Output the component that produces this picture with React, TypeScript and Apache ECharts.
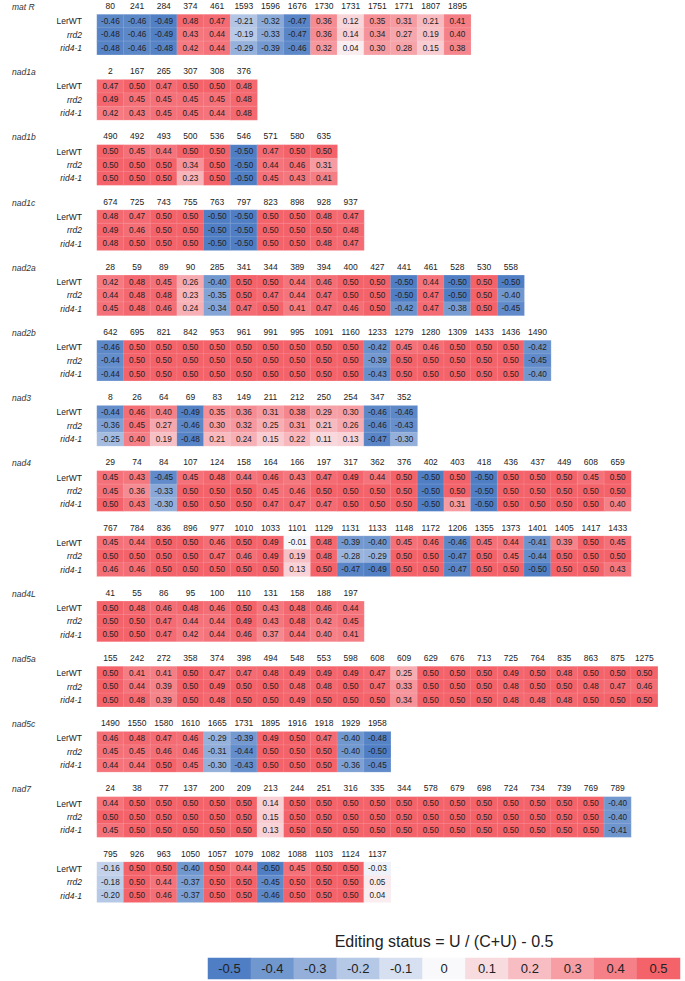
import React, { useEffect, useRef } from 'react';
import * as echarts from 'echarts';

const ROW_NAMES = ['LerWT', 'rrd2', 'rid4-1'];

const matR_cols = ['80', '241', '284', '374', '461', '1593', '1596', '1676', '1730', '1731', '1751', '1771', '1807', '1895'];
const matR_LerWT = [-0.46, -0.46, -0.49, 0.48, 0.47, -0.21, -0.32, -0.47, 0.36, 0.12, 0.35, 0.31, 0.21, 0.41];
const matR_rrd2 = [-0.48, -0.46, -0.49, 0.43, 0.44, -0.19, -0.33, -0.47, 0.36, 0.14, 0.34, 0.27, 0.19, 0.40];
const matR_rid4 = [-0.48, -0.46, -0.48, 0.42, 0.44, -0.29, -0.39, -0.46, 0.32, 0.04, 0.30, 0.28, 0.15, 0.38];

const nad1a_cols = ['2', '167', '265', '307', '308', '376'];
const nad1a_LerWT = [0.47, 0.50, 0.47, 0.50, 0.50, 0.48];
const nad1a_rrd2 = [0.49, 0.45, 0.45, 0.45, 0.45, 0.48];
const nad1a_rid4 = [0.42, 0.43, 0.45, 0.45, 0.44, 0.48];

const nad1b_cols = ['490', '492', '493', '500', '536', '546', '571', '580', '635'];
const nad1b_LerWT = [0.50, 0.45, 0.44, 0.50, 0.50, -0.50, 0.47, 0.50, 0.50];
const nad1b_rrd2 = [0.50, 0.50, 0.50, 0.34, 0.50, -0.50, 0.44, 0.46, 0.31];
const nad1b_rid4 = [0.50, 0.50, 0.50, 0.23, 0.50, -0.50, 0.45, 0.43, 0.41];

const nad1c_cols = ['674', '725', '743', '755', '763', '797', '823', '898', '928', '937'];
const nad1c_LerWT = [0.48, 0.47, 0.50, 0.50, -0.50, -0.50, 0.50, 0.50, 0.48, 0.47];
const nad1c_rrd2 = [0.49, 0.46, 0.50, 0.50, -0.50, -0.50, 0.50, 0.50, 0.50, 0.48];
const nad1c_rid4 = [0.48, 0.50, 0.50, 0.50, -0.50, -0.50, 0.50, 0.50, 0.48, 0.47];

const nad2a_cols = ['28', '59', '89', '90', '285', '341', '344', '389', '394', '400', '427', '441', '461', '528', '530', '558'];
const nad2a_LerWT = [0.42, 0.48, 0.45, 0.26, -0.40, 0.50, 0.50, 0.44, 0.46, 0.50, 0.50, -0.50, 0.44, -0.50, 0.50, -0.50];
const nad2a_rrd2 = [0.44, 0.48, 0.48, 0.23, -0.35, 0.50, 0.47, 0.44, 0.47, 0.50, 0.50, -0.50, 0.47, -0.50, 0.50, -0.40];
const nad2a_rid4 = [0.45, 0.48, 0.46, 0.24, -0.34, 0.47, 0.50, 0.41, 0.47, 0.46, 0.50, -0.42, 0.47, -0.38, 0.50, -0.45];

const nad2b_cols = ['642', '695', '821', '842', '953', '961', '991', '995', '1091', '1160', '1233', '1279', '1280', '1309', '1433', '1436', '1490'];
const nad2b_LerWT = [-0.46, 0.50, 0.50, 0.50, 0.50, 0.50, 0.50, 0.50, 0.50, 0.50, -0.42, 0.45, 0.46, 0.50, 0.50, 0.50, -0.42];
const nad2b_rrd2 = [-0.44, 0.50, 0.50, 0.50, 0.50, 0.50, 0.50, 0.50, 0.50, 0.50, -0.39, 0.50, 0.50, 0.50, 0.50, 0.50, -0.45];
const nad2b_rid4 = [-0.44, 0.50, 0.50, 0.50, 0.50, 0.50, 0.50, 0.50, 0.50, 0.50, -0.43, 0.50, 0.50, 0.50, 0.50, 0.50, -0.40];

const nad3_cols = ['8', '26', '64', '69', '83', '149', '211', '212', '250', '254', '347', '352'];
const nad3_LerWT = [-0.44, 0.46, 0.40, -0.49, 0.35, 0.36, 0.31, 0.38, 0.29, 0.30, -0.46, -0.46];
const nad3_rrd2 = [-0.36, 0.45, 0.27, -0.46, 0.30, 0.32, 0.25, 0.31, 0.21, 0.26, -0.46, -0.43];
const nad3_rid4 = [-0.25, 0.40, 0.19, -0.48, 0.21, 0.24, 0.15, 0.22, 0.11, 0.13, -0.47, -0.30];

const nad4a_cols = ['29', '74', '84', '107', '124', '158', '164', '166', '197', '317', '362', '376', '402', '403', '418', '436', '437', '449', '608', '659'];
const nad4a_LerWT = [0.45, 0.43, -0.45, 0.45, 0.48, 0.44, 0.46, 0.43, 0.47, 0.49, 0.44, 0.50, -0.50, 0.50, -0.50, 0.50, 0.50, 0.50, 0.45, 0.50];
const nad4a_rrd2 = [0.45, 0.36, -0.33, 0.50, 0.50, 0.50, 0.45, 0.46, 0.50, 0.50, 0.50, 0.50, -0.50, 0.50, -0.50, 0.50, 0.50, 0.50, 0.50, 0.50];
const nad4a_rid4 = [0.50, 0.43, -0.30, 0.50, 0.50, 0.50, 0.47, 0.47, 0.47, 0.50, 0.50, 0.50, -0.50, 0.31, -0.50, 0.50, 0.50, 0.50, 0.50, 0.40];

const nad4b_cols = ['767', '784', '836', '896', '977', '1010', '1033', '1101', '1129', '1131', '1133', '1148', '1172', '1206', '1355', '1373', '1401', '1405', '1417', '1433'];
const nad4b_LerWT = [0.45, 0.44, 0.50, 0.50, 0.46, 0.50, 0.49, -0.01, 0.48, -0.39, -0.40, 0.45, 0.46, -0.46, 0.45, 0.44, -0.41, 0.39, 0.50, 0.45];
const nad4b_rrd2 = [0.50, 0.50, 0.50, 0.50, 0.47, 0.46, 0.49, 0.19, 0.48, -0.28, -0.29, 0.50, 0.50, -0.47, 0.50, 0.45, -0.44, 0.50, 0.50, 0.50];
const nad4b_rid4 = [0.46, 0.46, 0.50, 0.50, 0.50, 0.50, 0.50, 0.13, 0.50, -0.47, -0.49, 0.50, 0.50, -0.47, 0.50, 0.50, -0.50, 0.50, 0.50, 0.43];

const nad4L_cols = ['41', '55', '86', '95', '100', '110', '131', '158', '188', '197'];
const nad4L_LerWT = [0.50, 0.48, 0.46, 0.48, 0.46, 0.50, 0.43, 0.48, 0.46, 0.44];
const nad4L_rrd2 = [0.50, 0.50, 0.47, 0.44, 0.44, 0.49, 0.43, 0.48, 0.42, 0.45];
const nad4L_rid4 = [0.50, 0.50, 0.47, 0.42, 0.44, 0.46, 0.37, 0.44, 0.40, 0.41];

const nad5a_cols = ['155', '242', '272', '358', '374', '398', '494', '548', '553', '598', '608', '609', '629', '676', '713', '725', '764', '835', '863', '875', '1275'];
const nad5a_LerWT = [0.50, 0.41, 0.41, 0.50, 0.47, 0.47, 0.48, 0.49, 0.49, 0.49, 0.47, 0.25, 0.50, 0.50, 0.50, 0.49, 0.50, 0.48, 0.50, 0.50, 0.50];
const nad5a_rrd2 = [0.50, 0.44, 0.39, 0.50, 0.49, 0.50, 0.50, 0.48, 0.48, 0.50, 0.47, 0.33, 0.50, 0.50, 0.50, 0.48, 0.50, 0.50, 0.48, 0.47, 0.46];
const nad5a_rid4 = [0.50, 0.48, 0.39, 0.50, 0.48, 0.50, 0.50, 0.49, 0.50, 0.50, 0.50, 0.34, 0.50, 0.50, 0.50, 0.48, 0.48, 0.48, 0.50, 0.50, 0.50];

const nad5c_cols = ['1490', '1550', '1580', '1610', '1665', '1731', '1895', '1916', '1918', '1929', '1958'];
const nad5c_LerWT = [0.46, 0.48, 0.47, 0.46, -0.29, -0.39, 0.49, 0.50, 0.47, -0.40, -0.48];
const nad5c_rrd2 = [0.45, 0.45, 0.46, 0.46, -0.31, -0.44, 0.50, 0.50, 0.50, -0.40, -0.50];
const nad5c_rid4 = [0.44, 0.44, 0.50, 0.45, -0.30, -0.43, 0.50, 0.50, 0.50, -0.36, -0.45];

const nad7a_cols = ['24', '38', '77', '137', '200', '209', '213', '244', '251', '316', '335', '344', '578', '679', '698', '724', '734', '739', '769', '789'];
const nad7a_LerWT = [0.44, 0.50, 0.50, 0.50, 0.50, 0.50, 0.14, 0.50, 0.50, 0.50, 0.50, 0.50, 0.50, 0.50, 0.50, 0.50, 0.50, 0.50, 0.50, -0.40];
const nad7a_rrd2 = [0.50, 0.50, 0.50, 0.50, 0.50, 0.50, 0.15, 0.50, 0.50, 0.50, 0.50, 0.50, 0.50, 0.50, 0.50, 0.50, 0.50, 0.50, 0.50, -0.40];
const nad7a_rid4 = [0.45, 0.50, 0.50, 0.50, 0.50, 0.50, 0.13, 0.50, 0.50, 0.50, 0.50, 0.50, 0.50, 0.50, 0.50, 0.50, 0.50, 0.50, 0.50, -0.41];

const nad7b_cols = ['795', '926', '963', '1050', '1057', '1079', '1082', '1088', '1103', '1124', '1137'];
const nad7b_LerWT = [-0.16, 0.50, 0.50, -0.40, 0.50, 0.44, -0.50, 0.45, 0.50, 0.50, -0.03];
const nad7b_rrd2 = [-0.18, 0.50, 0.44, -0.37, 0.50, 0.50, -0.45, 0.50, 0.50, 0.50, 0.05];
const nad7b_rid4 = [-0.20, 0.50, 0.46, -0.37, 0.50, 0.50, -0.46, 0.50, 0.50, 0.50, 0.04];

const LEGEND_VALUES = [-0.5, -0.4, -0.3, -0.2, -0.1, 0, 0.1, 0.2, 0.3, 0.4, 0.5];
const LEGEND_TITLE = 'Editing status = U / (C+U) - 0.5';

const BLOCKS = [
  { title: 'mat R', cols: matR_cols, rows: [matR_LerWT, matR_rrd2, matR_rid4] },
  { title: 'nad1a', cols: nad1a_cols, rows: [nad1a_LerWT, nad1a_rrd2, nad1a_rid4] },
  { title: 'nad1b', cols: nad1b_cols, rows: [nad1b_LerWT, nad1b_rrd2, nad1b_rid4] },
  { title: 'nad1c', cols: nad1c_cols, rows: [nad1c_LerWT, nad1c_rrd2, nad1c_rid4] },
  { title: 'nad2a', cols: nad2a_cols, rows: [nad2a_LerWT, nad2a_rrd2, nad2a_rid4] },
  { title: 'nad2b', cols: nad2b_cols, rows: [nad2b_LerWT, nad2b_rrd2, nad2b_rid4] },
  { title: 'nad3', cols: nad3_cols, rows: [nad3_LerWT, nad3_rrd2, nad3_rid4] },
  { title: 'nad4', cols: nad4a_cols, rows: [nad4a_LerWT, nad4a_rrd2, nad4a_rid4] },
  { title: '', cols: nad4b_cols, rows: [nad4b_LerWT, nad4b_rrd2, nad4b_rid4] },
  { title: 'nad4L', cols: nad4L_cols, rows: [nad4L_LerWT, nad4L_rrd2, nad4L_rid4] },
  { title: 'nad5a', cols: nad5a_cols, rows: [nad5a_LerWT, nad5a_rrd2, nad5a_rid4] },
  { title: 'nad5c', cols: nad5c_cols, rows: [nad5c_LerWT, nad5c_rrd2, nad5c_rid4] },
  { title: 'nad7', cols: nad7a_cols, rows: [nad7a_LerWT, nad7a_rrd2, nad7a_rid4] },
  { title: '', cols: nad7b_cols, rows: [nad7b_LerWT, nad7b_rrd2, nad7b_rid4] },
];

const W = 685;
const H = 981;
const LEFT = 97;
const CELL_W = 26.7;
const PITCH = 65.2;
const HEADER0 = 7;
const ROW_H = 13.4;
const FONT = 'Liberation Sans, Arial, Helvetica, sans-serif';

export default function App() {
  const ref = useRef<HTMLDivElement>(null);

  useEffect(() => {
    if (!ref.current) return;
    const chart = echarts.init(ref.current, null, { renderer: 'svg' });

    const grids: any[] = [];
    const xAxes: any[] = [];
    const yAxes: any[] = [];
    const series: any[] = [];
    const graphics: any[] = [];

    BLOCKS.forEach((b, i) => {
      const headerY = HEADER0 + PITCH * i;
      const top = headerY + 7.5;
      grids.push({ left: LEFT, top, width: b.cols.length * CELL_W, height: ROW_H * 3 });
      xAxes.push({
        type: 'category', gridIndex: i, data: b.cols, position: 'top',
        axisLine: { show: false }, axisTick: { show: false },
        axisLabel: { interval: 0, fontSize: 8.5, color: '#222', margin: 4, fontFamily: FONT },
        splitLine: { show: false },
      });
      yAxes.push({
        type: 'category', gridIndex: i, data: ROW_NAMES, inverse: true,
        axisLine: { show: false }, axisTick: { show: false },
        axisLabel: {
          fontSize: 8.5, color: '#222', margin: 15, fontFamily: FONT,
          formatter: (v: string) => (v === 'LerWT' ? v : `{i|${v}}`),
          rich: { i: { fontStyle: 'italic', fontSize: 8.5, color: '#222', fontFamily: FONT } },
        },
        splitLine: { show: false },
      });
      const data: any[] = [];
      b.rows.forEach((vals, r) => vals.forEach((v, c) => data.push([c, r, v])));
      series.push({
        type: 'heatmap', xAxisIndex: i, yAxisIndex: i, data,
        itemStyle: { borderColor: 'rgba(255,255,255,0.25)', borderWidth: 0.5 },
        label: {
          show: true, fontSize: 8.2, color: '#222', fontFamily: FONT,
          formatter: (p: any) => Number(p.value[2]).toFixed(2),
        },
        emphasis: { disabled: true },
      });
      if (b.title) {
        graphics.push({
          type: 'text', x: 12, y: headerY,
          style: { text: b.title, fontSize: 8.5, fontStyle: 'italic', fill: '#333', fontFamily: FONT, textVerticalAlign: 'middle' },
        });
      }
    });

    // legend strip as a heatmap
    const li = BLOCKS.length;
    const legendLeft = 208;
    const legendW = 472;
    grids.push({ left: legendLeft, top: 958, width: legendW, height: 21 });
    xAxes.push({
      type: 'category', gridIndex: li, data: LEGEND_VALUES.map(String), show: false,
    });
    yAxes.push({ type: 'category', gridIndex: li, data: ['legend'], show: false });
    series.push({
      type: 'heatmap', xAxisIndex: li, yAxisIndex: li,
      data: LEGEND_VALUES.map((v, c) => [c, 0, v]),
      label: {
        show: true, fontSize: 13, color: '#222', fontFamily: FONT,
        formatter: (p: any) => String(p.value[2]),
      },
      emphasis: { disabled: true },
    });
    graphics.push({
      type: 'text', x: legendLeft + legendW / 2, y: 941,
      style: { text: LEGEND_TITLE, fontSize: 16, fill: '#222', fontFamily: FONT, textAlign: 'center', textVerticalAlign: 'middle' },
    });

    chart.setOption({
      animation: false,
      backgroundColor: '#ffffff',
      grid: grids,
      xAxis: xAxes,
      yAxis: yAxes,
      visualMap: {
        type: 'continuous', show: false, min: -0.5, max: 0.5,
        inRange: { color: ['#4f7ec4', '#f9f9fc', '#f4626a'] },
      },
      series,
      graphic: graphics,
    });

    return () => chart.dispose();
  }, []);

  return (
    <div
      ref={ref}
      style={{ position: 'fixed', left: 0, top: 0, width: W, height: H, background: '#fff' }}
    />
  );
}
